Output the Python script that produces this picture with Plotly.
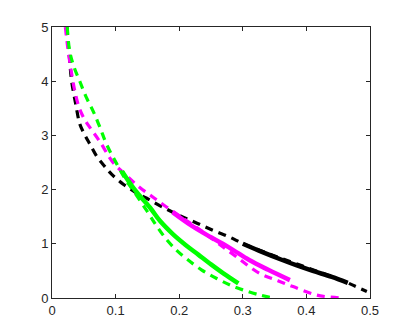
import plotly.graph_objects as go

# dashed reference curves
black_dash_x = [0.023, 0.027, 0.031, 0.037, 0.044, 0.052, 0.060, 0.070, 0.082, 0.094, 0.112,
                0.130, 0.149, 0.175, 0.201, 0.228, 0.254, 0.280, 0.301, 0.340, 0.380, 0.420,
                0.463, 0.476, 0.495]
black_dash_y = [5.0, 4.5, 3.99, 3.6, 3.2, 3.0, 2.83, 2.62, 2.44, 2.28, 2.1,
                1.96, 1.84, 1.67, 1.52, 1.38, 1.245, 1.12, 1.0, 0.82, 0.65, 0.48,
                0.29, 0.22, 0.12]

magenta_dash_x = [0.021, 0.025, 0.030, 0.036, 0.043, 0.051, 0.060, 0.075, 0.096, 0.117, 0.138,
                  0.160, 0.180, 0.205, 0.230, 0.260, 0.290, 0.327, 0.355, 0.379, 0.416, 0.453]
magenta_dash_y = [5.0, 4.6, 4.2, 3.81, 3.5, 3.3, 3.14, 2.89, 2.5, 2.26, 2.04,
                  1.85, 1.68, 1.48, 1.28, 1.02, 0.76, 0.45, 0.32, 0.21, 0.055, 0.0]

green_dash_x = [0.024, 0.028, 0.035, 0.044, 0.054, 0.065, 0.076, 0.086, 0.102, 0.115, 0.128,
                0.149, 0.165, 0.180, 0.196, 0.212, 0.235, 0.259, 0.280, 0.300, 0.327, 0.348]
green_dash_y = [5.0, 4.54, 4.25, 3.99, 3.7, 3.44, 3.13, 2.83, 2.47, 2.2, 1.98,
                1.61, 1.32, 1.08, 0.88, 0.72, 0.52, 0.36, 0.24, 0.15, 0.055, 0.0]

# solid (thick) curves
black_solid_x = [0.30, 0.33, 0.36, 0.385, 0.41, 0.44, 0.465]
black_solid_y = [1.0, 0.85, 0.71, 0.60, 0.50, 0.39, 0.28]

magenta_solid_x = [0.19, 0.22, 0.25, 0.28, 0.31, 0.34, 0.374]
magenta_solid_y = [1.58, 1.33, 1.12, 0.92, 0.70, 0.52, 0.33]

green_solid_x = [0.11, 0.13, 0.154, 0.17, 0.19, 0.21, 0.23, 0.25, 0.27, 0.293]
green_solid_y = [2.34, 2.0, 1.67, 1.42, 1.18, 0.98, 0.80, 0.62, 0.45, 0.27]

x_ticks = [0, 0.1, 0.2, 0.3, 0.4, 0.5]
x_labels = ["0", "0.1", "0.2", "0.3", "0.4", "0.5"]
y_ticks = [0, 1, 2, 3, 4, 5]

fig = go.Figure()

for xs, ys, col in [(black_dash_x, black_dash_y, "#000000"),
                    (magenta_dash_x, magenta_dash_y, "#ff00ff"),
                    (green_dash_x, green_dash_y, "#00ff00")]:
    fig.add_trace(go.Scatter(x=xs, y=ys, mode="lines", line_shape="spline",
                             line=dict(color=col, width=3.2, dash="8px,6px")))

for xs, ys, col in [(green_solid_x, green_solid_y, "#00ff00"),
                    (magenta_solid_x, magenta_solid_y, "#ff00ff"),
                    (black_solid_x, black_solid_y, "#000000")]:
    fig.add_trace(go.Scatter(x=xs, y=ys, mode="lines", line_shape="spline",
                             line=dict(color=col, width=4.5)))

axis_style = dict(showline=True, linecolor="#262626", linewidth=1, mirror="ticks",
                  ticks="inside", ticklen=4, tickcolor="#262626", showgrid=False,
                  zeroline=False, tickfont=dict(family="Liberation Sans", size=13, color="#262626"))

fig.update_xaxes(range=[0, 0.5], tickvals=x_ticks, ticktext=x_labels, **axis_style)
fig.update_yaxes(range=[0, 5], tickvals=y_ticks, **axis_style)

# page body has an 8px margin, so the figure is shrunk to fit the window
fig.update_layout(
    width=401, height=328,
    margin=dict(l=44, r=39, t=17, b=38),
    plot_bgcolor="white", paper_bgcolor="white",
    showlegend=False,
)

fig.write_html("out.html")
